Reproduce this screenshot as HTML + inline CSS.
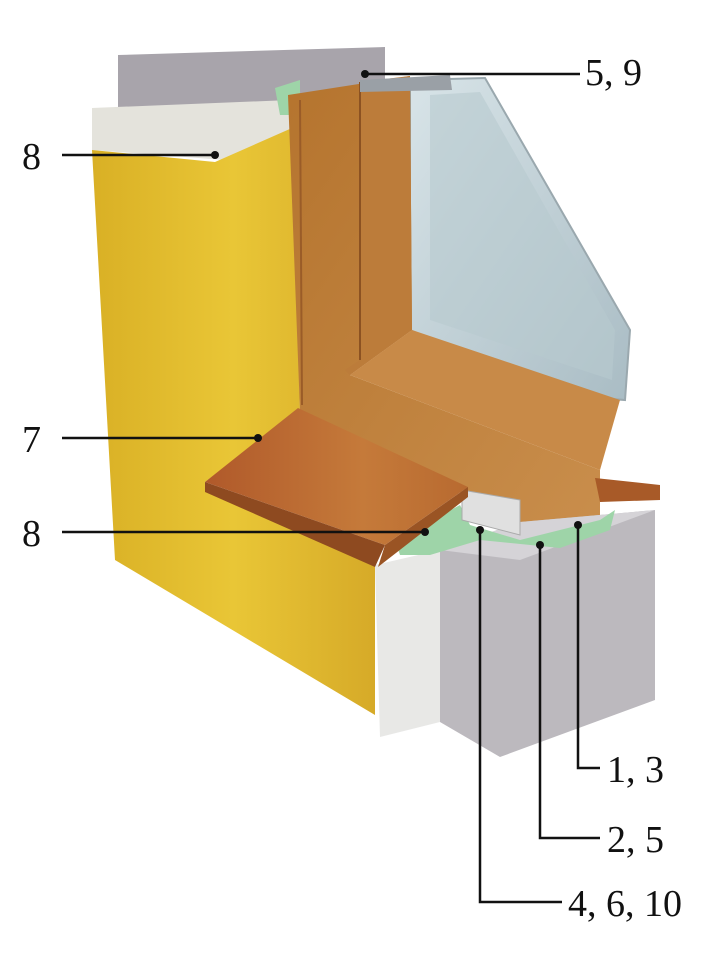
<!DOCTYPE html>
<html><head><meta charset="utf-8"><style>
html,body{margin:0;padding:0;background:#fff;}
svg{display:block;}
text{font-family:"Liberation Serif",serif;font-size:38px;fill:#111;}
</style></head><body>
<svg width="717" height="954" viewBox="0 0 717 954" xmlns="http://www.w3.org/2000/svg">
<defs>
<linearGradient id="yel" x1="0" y1="0" x2="1" y2="0">
<stop offset="0" stop-color="#d9b025"/><stop offset="0.5" stop-color="#e9c636"/><stop offset="1" stop-color="#d6aa28"/></linearGradient>
<linearGradient id="wood" x1="0" y1="0" x2="1" y2="1">
<stop offset="0" stop-color="#b5742e"/><stop offset="1" stop-color="#c98e4c"/></linearGradient>
<linearGradient id="glass" x1="0" y1="0" x2="1" y2="1">
<stop offset="0" stop-color="#d8e4e8"/><stop offset="1" stop-color="#a9bcc4"/></linearGradient>
<linearGradient id="sill" x1="0" y1="0" x2="1" y2="0">
<stop offset="0" stop-color="#b0592a"/><stop offset="0.6" stop-color="#c57a3a"/><stop offset="1" stop-color="#b86a30"/></linearGradient>
</defs>
<polygon points="118,55 385,47 385,122 118,130" fill="#a8a4ab"/>
<polygon points="92,108 290,100 292,128 225,160 92,150" fill="#e4e3dc"/>
<polygon points="92,150 215,162 292,128 300,410 205,482 375,565 375,715 115,560" fill="url(#yel)"/>
<polygon points="275,88 300,80 300,115 280,115" fill="#9ed4a8"/>
<polygon points="410,80 485,78 630,330 625,400 560,395 410,330" fill="url(#glass)" stroke="#9aa8ae" stroke-width="2"/>
<polygon points="430,95 480,92 615,330 612,380 430,320" fill="#b7c9cf" opacity="0.6"/>
<polygon points="288,95 410,76 412,330 350,375 600,470 600,530 540,532 300,412" fill="url(#wood)"/>
<polygon points="360,82 410,76 412,330 350,375 345,370 360,360" fill="#bc7c3a"/>
<polygon points="350,375 412,330 620,400 600,470" fill="#c88a48"/>
<line x1="360" y1="82" x2="360" y2="360" stroke="#8c5222" stroke-width="2"/>
<line x1="300" y1="100" x2="302" y2="405" stroke="#9a5c28" stroke-width="2"/>
<polygon points="360,80 450,75 452,90 360,92" fill="#9aa0a6"/>
<polygon points="595,478 660,485 660,500 600,502" fill="#a85a28"/>
<polygon points="440,550 520,522 655,510 655,700 500,757 440,722" fill="#bcb9be"/>
<polygon points="440,550 520,522 655,510 520,560" fill="#d5d3d7"/>
<polygon points="375,565 440,550 440,722 380,737" fill="#e8e8e6"/>
<polygon points="395,540 460,505 470,525 520,540 600,520 615,510 610,530 560,548 480,540 430,555 400,555" fill="#9ed4a8"/>
<polygon points="462,490 520,500 520,535 462,520" fill="#e0e0e0" stroke="#aaa"/>
<polygon points="205,482 298,408 468,487 385,545" fill="url(#sill)"/>
<polygon points="205,482 385,545 375,567 205,492" fill="#8e4a20"/>
<polygon points="385,545 468,487 468,497 378,567" fill="#9a5424"/>
<g stroke="#111" stroke-width="2.5" fill="none">
<line x1="365" y1="74" x2="580" y2="74"/>
<line x1="62" y1="155" x2="215" y2="155"/>
<line x1="62" y1="438" x2="258" y2="438"/>
<line x1="62" y1="532" x2="425" y2="532"/>
<polyline points="578,525 578,768 600,768"/>
<polyline points="540,545 540,838 600,838"/>
<polyline points="480,530 480,902 562,902"/>
</g>
<g fill="#111">
<circle cx="365" cy="74" r="4"/><circle cx="215" cy="155" r="4"/>
<circle cx="258" cy="438" r="4"/><circle cx="425" cy="532" r="4"/>
<circle cx="578" cy="525" r="4"/><circle cx="540" cy="545" r="4"/>
<circle cx="480" cy="530" r="4"/>
</g>
<text x="585" y="85">5, 9</text>
<text x="22" y="169">8</text>
<text x="22" y="452">7</text>
<text x="22" y="546">8</text>
<text x="607" y="782">1, 3</text>
<text x="607" y="852">2, 5</text>
<text x="568" y="916">4, 6, 10</text>
</svg>
</body></html>
